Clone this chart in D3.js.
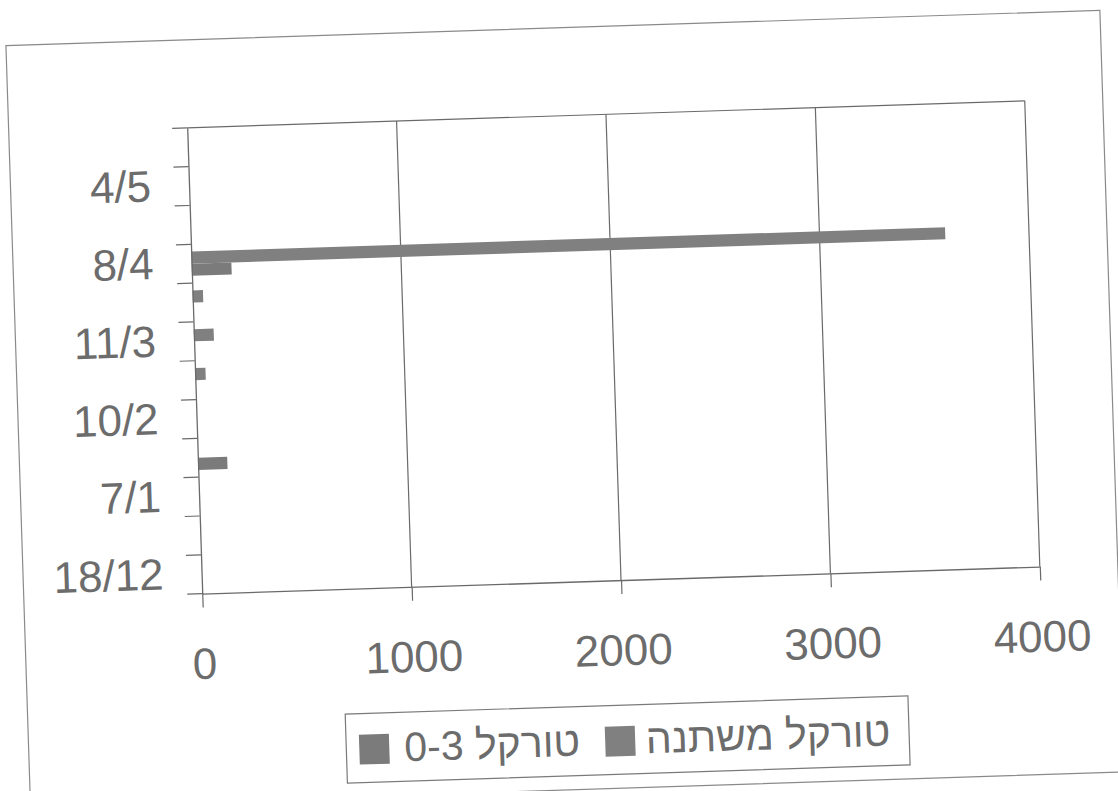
<!DOCTYPE html>
<html>
<head>
<meta charset="utf-8">
<script src="https://cdn.jsdelivr.net/npm/d3@7/dist/d3.min.js"></script>
<style>
  html, body { margin: 0; padding: 0; background: #ffffff; }
  svg { display: block; }
  text { font-family: "Liberation Sans", Arial, sans-serif; fill: #6c6c6c; }
</style>
</head>
<body>
<svg id="chart" width="1118" height="791"></svg>
<script>
// ---- data ----
const categoryIndex = [0,1,2,3,4,5,6,7,8,9,10,11];            // bottom -> top
const categoryLabels = ["18/12","","7/1","","10/2","","11/3","","8/4","","4/5",""];
const seriesNames = ["טורקל 0-3", "טורקל משתנה"];
const seriesTorkel03 = [0,0,0,140,0,0,0,0,190,0,0,0];
const seriesTorkelVar = [0,0,0,0,0,50,95,50,3600,0,0,0];
const xTickValues = [0,1000,2000,3000,4000];
const seriesColors = ["#7b7b7b", "#808080"];

// ---- layout ----
const W = 1118, H = 791;
const plot = {left: 196, right: 1034, top: 116, bottom: 582};
const lineColor = "#6a6a6a";

const svg = d3.select("#chart");
const g = svg.append("g").attr("transform", "rotate(-1.85,559,395)");

// outer chart border
g.append("rect")
  .attr("x", 17.5).attr("y", 28).attr("width", 1094.5).attr("height", 762)
  .attr("fill", "none").attr("stroke", "#8a8a8a").attr("stroke-width", 1.2);

const x = d3.scaleLinear().domain([0, 4000]).range([plot.left, plot.right]);
const y = d3.scaleBand().domain(categoryIndex.slice().reverse())
  .range([plot.top, plot.bottom]).paddingInner(0).paddingOuter(0);
const inner = d3.scaleBand().domain([1, 0]).range([0, y.bandwidth()])
  .paddingInner(0).paddingOuter(0.6);

// gridlines
g.append("g").selectAll("line").data(xTickValues.filter(v => v > 0)).join("line")
  .attr("x1", d => x(d)).attr("x2", d => x(d))
  .attr("y1", plot.top).attr("y2", plot.bottom)
  .attr("stroke", lineColor).attr("stroke-width", 1.2);
// top border of plot area
g.append("line")
  .attr("x1", plot.left).attr("x2", plot.right)
  .attr("y1", plot.top).attr("y2", plot.top)
  .attr("stroke", lineColor).attr("stroke-width", 1.2);

// bars
const rows = [];
categoryIndex.forEach((c, i) => {
  rows.push({c, s: 0, v: seriesTorkel03[i]});
  rows.push({c, s: 1, v: seriesTorkelVar[i]});
});
g.append("g").selectAll("rect").data(rows.filter(d => d.v > 0)).join("rect")
  .attr("x", x(0))
  .attr("y", d => y(d.c) + inner(d.s))
  .attr("width", d => x(d.v) - x(0))
  .attr("height", inner.bandwidth())
  .attr("fill", d => seriesColors[d.s]);

// x axis
const xAxis = g.append("g").attr("transform", `translate(0,${plot.bottom})`)
  .call(d3.axisBottom(x).tickValues(xTickValues).tickFormat(d3.format("d"))
    .tickSize(14).tickSizeOuter(0).tickPadding(40));
xAxis.select(".domain").attr("stroke", lineColor).attr("stroke-width", 1.3);
xAxis.selectAll(".tick line").attr("stroke", lineColor).attr("stroke-width", 1.2);
xAxis.selectAll("text").attr("font-size", 44).attr("fill", "#6c6c6c")
  .attr("font-family", "Liberation Sans, Arial, sans-serif");

// y axis (labels at category centers, every other one)
const yAxis = g.append("g").attr("transform", `translate(${plot.left},0)`)
  .call(d3.axisLeft(y).tickSize(0).tickSizeOuter(0).tickPadding(38)
    .tickFormat(i => categoryLabels[i]));
yAxis.select(".domain").attr("stroke", lineColor).attr("stroke-width", 1.3);
yAxis.selectAll("text").attr("font-size", 44).attr("fill", "#6c6c6c")
  .attr("font-family", "Liberation Sans, Arial, sans-serif");
// tick marks between categories
const boundaries = d3.range(categoryIndex.length + 1).map(k => plot.top + k * y.step());
g.append("g").selectAll("line").data(boundaries).join("line")
  .attr("x1", plot.left - 15).attr("x2", plot.left)
  .attr("y1", d => d).attr("y2", d => d)
  .attr("stroke", lineColor).attr("stroke-width", 1.2);

// legend
const legend = {x: 335, y: 707, w: 563, h: 69};
const lg = g.append("g");
lg.append("rect").attr("x", legend.x).attr("y", legend.y)
  .attr("width", legend.w).attr("height", legend.h)
  .attr("fill", "none").attr("stroke", "#7a7a7a").attr("stroke-width", 1.2);
const legendItems = [
  {name: seriesNames[0], color: seriesColors[0], sq: legend.x + 13, tx: legend.x + 146},
  {name: seriesNames[1], color: seriesColors[1], sq: legend.x + 259, tx: legend.x + 422}
];
legendItems.forEach(it => {
  lg.append("rect").attr("x", it.sq).attr("y", legend.y + 21)
    .attr("width", 30).attr("height", 30).attr("fill", it.color);
  lg.append("text").attr("x", it.tx).attr("y", legend.y + 49)
    .attr("direction", "rtl").attr("text-anchor", "middle")
    .attr("font-size", 41).text(it.name);
});
</script>
</body>
</html>
